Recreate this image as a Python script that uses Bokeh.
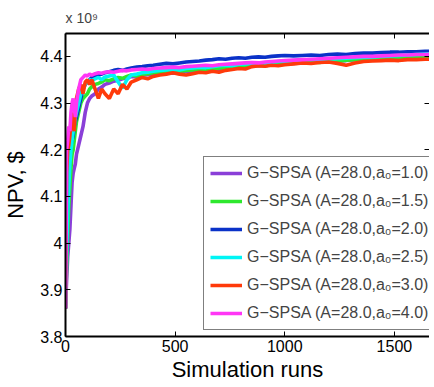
from bokeh.plotting import figure
from bokeh.models import LinearAxis, FixedTicker, Legend, LegendItem, Title, CustomJSTickFormatter
from bokeh.embed import file_html
from bokeh.resources import INLINE

# Simulation runs (x)
runs = [0, 5, 10, 15, 20, 25, 30, 35, 40, 45, 50,
        60, 70, 80, 90, 100, 110, 120,
        135, 150, 165, 180,
        200, 220, 240, 260, 280, 300,
        325, 350, 375, 400,
        430, 460, 490, 520, 550, 580, 610, 640, 670, 700, 730, 760, 790, 820, 850, 880, 910, 940, 970, 1000,
        1040, 1080, 1120, 1160, 1200, 1240, 1280, 1320, 1360, 1400, 1440, 1480, 1520, 1560, 1600, 1640, 1680]

# NPV in units of 1e9 $
npv_a10 = [3.86, 3.92, 3.97, 4.00, 4.03, 4.08, 4.13, 4.15, 4.16, 4.17, 4.19,
           4.21, 4.23, 4.25, 4.28, 4.30, 4.31, 4.315,
           4.32, 4.33, 4.334, 4.34,
           4.343, 4.347, 4.349, 4.352, 4.353, 4.357,
           4.356, 4.36, 4.361, 4.362,
           4.363, 4.365, 4.364, 4.367, 4.368, 4.367, 4.37, 4.371, 4.373, 4.372, 4.375, 4.376, 4.375, 4.378, 4.379, 4.38, 4.38, 4.382, 4.383, 4.384,
           4.385, 4.386, 4.387, 4.388, 4.39, 4.391, 4.391, 4.393, 4.394, 4.395, 4.396, 4.397, 4.398, 4.398, 4.399, 4.40, 4.40]

npv_a15 = [3.86, 3.95, 4.02, 4.08, 4.12, 4.16, 4.19, 4.20, 4.22, 4.24, 4.26,
           4.28, 4.30, 4.31, 4.315, 4.32, 4.33, 4.335,
           4.34, 4.342, 4.345, 4.35,
           4.348, 4.352, 4.355, 4.353, 4.357, 4.36,
           4.358, 4.362, 4.363, 4.365,
           4.366, 4.367, 4.366, 4.368, 4.37, 4.371, 4.372, 4.373, 4.372, 4.375, 4.376, 4.377, 4.376, 4.378, 4.38, 4.381, 4.38, 4.382, 4.383, 4.385,
           4.386, 4.387, 4.388, 4.387, 4.39, 4.389, 4.392, 4.393, 4.394, 4.394, 4.396, 4.397, 4.398, 4.398, 4.399, 4.40, 4.401]

npv_a20 = [3.86, 4.02, 4.10, 4.15, 4.19, 4.21, 4.22, 4.23, 4.25, 4.26, 4.27,
           4.29, 4.31, 4.33, 4.34, 4.345, 4.35, 4.355,
           4.358, 4.36, 4.362, 4.365,
           4.367, 4.37, 4.372, 4.37, 4.373, 4.375,
           4.377, 4.378, 4.38, 4.381,
           4.383, 4.385, 4.384, 4.386, 4.388, 4.389, 4.39, 4.392, 4.393, 4.395, 4.394, 4.396, 4.397, 4.396, 4.398, 4.399, 4.398, 4.40, 4.401, 4.402,
           4.401, 4.402, 4.403, 4.402, 4.404, 4.405, 4.404, 4.406, 4.407, 4.407, 4.408, 4.409, 4.409, 4.41, 4.41, 4.411, 4.411]

npv_a25 = [3.86, 3.98, 4.06, 4.12, 4.17, 4.20, 4.22, 4.24, 4.25, 4.27, 4.28,
           4.30, 4.32, 4.335, 4.34, 4.345, 4.35, 4.348,
           4.352, 4.355, 4.35, 4.356,
           4.358, 4.36, 4.345, 4.332, 4.35, 4.36,
           4.362, 4.365, 4.366, 4.368,
           4.37, 4.371, 4.372, 4.371, 4.374, 4.375, 4.377, 4.376, 4.378, 4.38, 4.381, 4.38, 4.383, 4.384, 4.385, 4.386, 4.385, 4.387, 4.389, 4.39,
           4.391, 4.392, 4.393, 4.392, 4.394, 4.395, 4.396, 4.397, 4.398, 4.399, 4.40, 4.401, 4.402, 4.403, 4.404, 4.405, 4.406]

npv_a30 = [3.86, 4.15, 4.20, 4.21, 4.23, 4.26, 4.28, 4.25, 4.24, 4.29, 4.31,
           4.33, 4.34, 4.32, 4.345, 4.35, 4.34, 4.35,
           4.33, 4.31, 4.33, 4.32,
           4.31, 4.33, 4.32, 4.34, 4.33, 4.345,
           4.35, 4.355, 4.352, 4.357,
           4.36, 4.362, 4.365, 4.362, 4.36, 4.363, 4.366, 4.365, 4.368, 4.366, 4.37, 4.372, 4.374, 4.373, 4.378, 4.38, 4.379, 4.381, 4.38, 4.382,
           4.384, 4.386, 4.385, 4.387, 4.388, 4.385, 4.381, 4.386, 4.389, 4.39, 4.391, 4.392, 4.391, 4.393, 4.393, 4.394, 4.394]

npv_a40 = [3.86, 4.20, 4.22, 4.25, 4.24, 4.28, 4.30, 4.31, 4.29, 4.27, 4.30,
           4.33, 4.35, 4.355, 4.36, 4.358, 4.362, 4.36,
           4.363, 4.365, 4.364, 4.366,
           4.367, 4.366, 4.368, 4.37, 4.369, 4.371,
           4.372, 4.373, 4.372, 4.374,
           4.375, 4.376, 4.377, 4.376, 4.378, 4.379, 4.38, 4.381, 4.38, 4.382, 4.383, 4.384, 4.385, 4.386, 4.387, 4.386, 4.388, 4.389, 4.39, 4.391,
           4.392, 4.393, 4.394, 4.395, 4.396, 4.397, 4.398, 4.399, 4.40, 4.40, 4.401, 4.402, 4.403, 4.403, 4.404, 4.404, 4.405]

series_labels = ["G\u2212SPSA (A=28.0,a\u2080=1.0)",
                 "G\u2212SPSA (A=28.0,a\u2080=1.5)",
                 "G\u2212SPSA (A=28.0,a\u2080=2.0)",
                 "G\u2212SPSA (A=28.0,a\u2080=2.5)",
                 "G\u2212SPSA (A=28.0,a\u2080=3.0)",
                 "G\u2212SPSA (A=28.0,a\u2080=4.0)"]
series_colors = ["#8a3fd8", "#2ee82e", "#0a32c8", "#00f5f5", "#ff3a0a", "#ff36f5"]
series_values = [npv_a10, npv_a15, npv_a20, npv_a25, npv_a30, npv_a40]

x_ticks = [0, 500, 1000, 1500]
y_ticks = [3.8, 3.9, 4.0, 4.1, 4.2, 4.3, 4.4]
y_tick_labels = ["3.8", "3.9", "4", "4.1", "4.2", "4.3", "4.4"]

FONT = "Liberation Sans"

p = figure(frame_width=364, frame_height=303, output_backend="svg", toolbar_location=None,
           x_range=(0, 1660), y_range=(3.8, 4.449),
           min_border_left=0, min_border_right=0, min_border_top=0, min_border_bottom=0)
p.outline_line_color = None
p.xgrid.visible = False
p.ygrid.visible = False
p.background_fill_color = "white"
p.border_fill_color = "white"

renderers = []
for vals, col in zip(series_values, series_colors):
    r = p.line(runs, vals, line_color=col, line_width=3.6)
    renderers.append(r)

def style_axis(ax, show_labels=True, show_line=True):
    ax.axis_line_width = 2
    ax.axis_line_color = "black" if show_line else None
    ax.major_tick_in = 5
    ax.major_tick_out = 0
    ax.major_tick_line_width = 1
    ax.minor_tick_in = 0
    ax.minor_tick_out = 0
    ax.major_label_text_font = FONT
    ax.major_label_text_font_size = "16px"
    ax.major_label_text_color = "black"
    ax.major_label_standoff = 3 if show_labels else 0
    ax.axis_label_text_font = FONT
    ax.axis_label_text_font_style = "normal"
    ax.axis_label_text_color = "black"
    if not show_labels:
        ax.formatter = CustomJSTickFormatter(code="return ''")

xa = p.xaxis[0]
ya = p.yaxis[0]
xa.ticker = FixedTicker(ticks=x_ticks)
ya.ticker = FixedTicker(ticks=y_ticks)
ya.major_label_overrides = {t: s for t, s in zip(y_ticks, y_tick_labels)}
style_axis(xa)
style_axis(ya)
xa.axis_label = "Simulation runs"
xa.axis_label_text_font_size = "22px"
xa.axis_label_standoff = 2
ya.axis_label = "NPV, $"
ya.axis_label_text_font_size = "22px"
ya.axis_label_standoff = 9

top = LinearAxis(ticker=FixedTicker(ticks=x_ticks))
style_axis(top, show_labels=False)
p.add_layout(top, "above")
right = LinearAxis(ticker=FixedTicker(ticks=y_ticks))
style_axis(right, show_labels=False, show_line=False)
p.add_layout(right, "right")

t = Title(text="x 10\u2079", text_font=FONT, text_font_size="14px",
          text_font_style="normal", align="left", offset=0, standoff=15)
p.add_layout(t, "above")

legend = Legend(items=[LegendItem(label=l, renderers=[r]) for l, r in zip(series_labels, renderers)],
                location=(138, 6))
legend.label_text_font = FONT
legend.label_text_font_size = "16px"
legend.label_height = 20
legend.glyph_height = 20
legend.glyph_width = 32
legend.label_standoff = 5
legend.spacing = 8
legend.padding = 6
legend.margin = 0
legend.border_line_color = "black"
legend.border_line_width = 1
legend.background_fill_alpha = 1
p.add_layout(legend, "center")

open("out.html", "w").write(file_html(p, INLINE))
